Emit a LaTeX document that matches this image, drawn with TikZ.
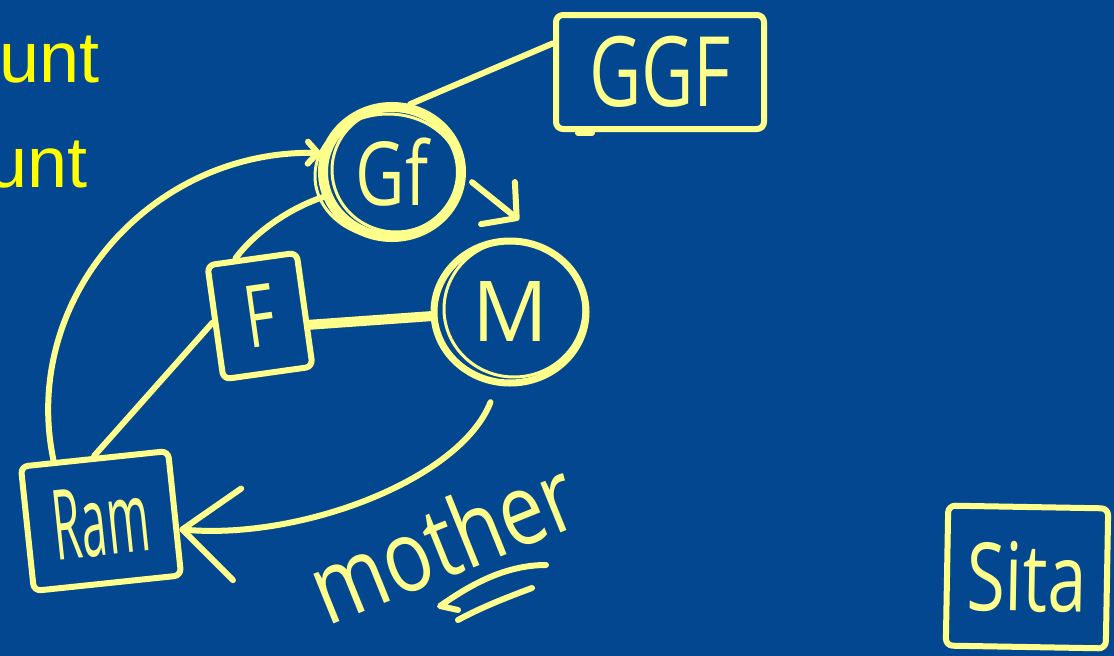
\documentclass[tikz,border=0pt]{standalone}
\usepackage{fontspec}
\usepackage{graphicx}
\setmainfont{Liberation Sans}
\newfontfamily\hand{Open Sans}
\usetikzlibrary{arrows.meta,shapes.geometric}
\definecolor{bg}{RGB}{4,71,145}
\definecolor{ink}{RGB}{255,255,140}
\definecolor{txt}{RGB}{255,255,0}
\newcommand{\handsz}[1]{\hand\fontsize{#1}{#1}\selectfont}
\begin{document}
\begin{tikzpicture}[x=1pt,y=-1pt,
  stroke/.style={draw=ink,line width=6pt,line cap=round,line join=round},
  boxnode/.style={stroke,rectangle,rounded corners=7pt,inner sep=0pt,text=ink},
  ringnode/.style={stroke,ellipse,inner sep=0pt,text=ink},
  link/.style={draw=ink,line width=6pt,line cap=round,line join=round},
  sketch/.style={draw=ink,line width=3pt},
  slide/.style={text=txt,font=\fontsize{72pt}{72pt}\selectfont,inner sep=0pt,anchor=base east},
]
\useasboundingbox (0,0) rectangle (1114,656);
\fill[bg] (0,0) rectangle (1114,656);

% slide text (cut off at the left edge)
\node[slide] (t1) at (100,82) {unt};
\node[slide] (t2) at (88,187) {unt};

% nodes
\node[boxnode, minimum width=208pt, minimum height=114pt, font=\handsz{72pt}] (ggf) at (660,72) {\scalebox{1}[1.35]{GGF}};
\draw[link] (578,133) -- (592,133);

\node[ringnode, line width=10pt, minimum width=138pt, minimum height=130pt, font=\handsz{68pt}] (gf) at (392,172) {\scalebox{1}[1.3]{Gf}};
\draw[sketch] (396,170) ellipse [x radius=64, y radius=62];
\draw[sketch] (388,176) ellipse [x radius=73, y radius=62];

\node[ringnode, line width=7pt, minimum width=152pt, minimum height=142pt, font=\handsz{84pt}] (m) at (510,312) {M};
\draw[sketch] (514,309) ellipse [x radius=70, y radius=68];

\node[boxnode, rotate=8, minimum width=90pt, minimum height=115pt, font=\handsz{72pt}] (f) at (260,316) {\scalebox{0.8}[1.2]{F}};

\node[boxnode, rotate=6, minimum width=148pt, minimum height=125pt, font=\handsz{65pt}] (ram) at (101,521) {\scalebox{0.7}[1.5]{Ram}};

\node[boxnode, rotate=-1, minimum width=160pt, minimum height=140pt, font=\handsz{70pt}] (sita) at (1027,577) {\scalebox{1}[1.35]{Sita}};

\node[text=ink, rotate=22, inner sep=0pt, font=\handsz{80pt}] (mother) at (442,540) {\scalebox{1}[1.25]{mother}};
\draw[link] (546,565) .. controls (505,565) and (470,585) .. (440,606) -- (458,610);
\draw[link] (532,588) .. controls (505,598) and (480,608) .. (458,620);

% connectors
\coordinate (gfm) at (519,220);
\draw[link] (gf.75) -- (ggf.165);
\draw[link, -{Straight Barb[round,length=24pt,width=54pt]}, shorten <=8pt] (gf.-4) -- (gfm);
\draw[link, -{Straight Barb[round,length=10pt,width=22pt]}] (ram.122) .. controls (20,300) and (150,150) .. (gf.165);
\draw[link] (f.105) .. controls (255,232) and (290,208) .. (gf.200);
\draw[link] (f.west) -- (ram.north);
\draw[link, line width=10pt] (f.-18) -- (m.183);
\draw[link, -{Straight Barb[round,length=55pt,width=92pt]}, shorten <=18pt] (m.-100) .. controls (460,480) and (300,540) .. (ram.-12);
\end{tikzpicture}
\end{document}
